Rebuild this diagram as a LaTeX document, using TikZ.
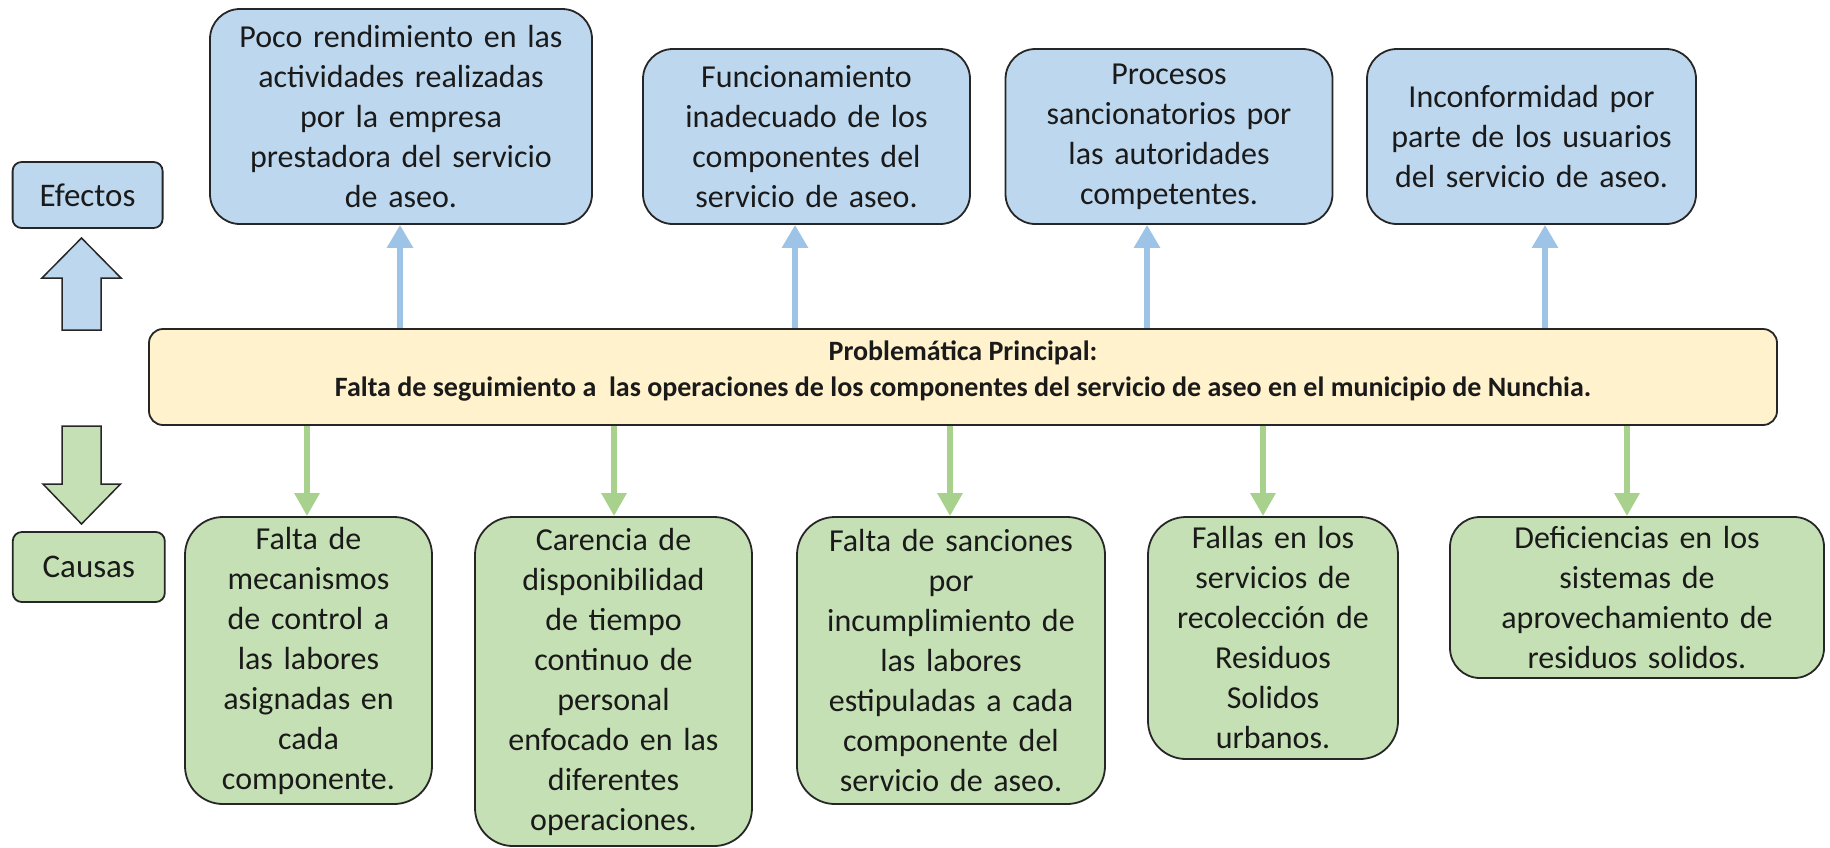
\documentclass[tikz,border=0pt]{standalone}
\usepackage{fontspec}
\setmainfont{Carlito}
\usetikzlibrary{arrows.meta}
\definecolor{effblue}{HTML}{BDD7EE}
\definecolor{causegreen}{HTML}{C5E0B4}
\definecolor{probyellow}{HTML}{FFF2CC}
\definecolor{arrblue}{HTML}{9DC3E6}
\definecolor{arrgreen}{HTML}{A9D18E}
\definecolor{edge}{HTML}{262626}
\definecolor{ink}{HTML}{1A1A1A}
\tikzset{
  basebox/.style={draw=edge, line width=1.8pt, inner sep=0pt, align=center, text=ink,
    font=\fontsize{32}{40}\selectfont},
  effbox/.style={basebox, fill=effblue, rounded corners=30pt},
  causebox/.style={basebox, fill=causegreen, rounded corners=38pt},
  labelbox/.style={draw=edge, line width=1.8pt, inner sep=0pt, rounded corners=9pt, text=ink,
    font=\fontsize{33}{40}\selectfont},
  probbox/.style={draw=edge, line width=1.8pt, inner sep=0pt, rounded corners=14pt, fill=probyellow,
    align=center, text=ink, font=\bfseries\fontsize{28}{35}\selectfont},
  barr/.style={draw=arrblue, line width=6pt, -{Triangle[length=23pt,width=25pt]}},
  garr/.style={draw=arrgreen, line width=6pt, -{Triangle[length=23pt,width=24pt]}},
  bigarrow/.style={draw=edge, line width=1.5pt, line join=miter},
}
\begin{document}
\begin{tikzpicture}[x=1pt,y=-1pt]
\useasboundingbox (0,0) rectangle (1830,847);

% side labels
\node[labelbox, fill=effblue, minimum width=150pt, minimum height=66pt] (efectos) at (87.6,195) {Efectos};
\node[labelbox, fill=causegreen, minimum width=152pt, minimum height=70pt] (causas) at (88.8,567) {Causas};

% big block arrows
\draw[bigarrow, fill=effblue] (62,330) -- (62,278) -- (42,278) -- (81.5,238) -- (121,278) -- (101,278) -- (101,330) -- cycle;
\draw[bigarrow, fill=causegreen] (62,426) -- (62,484) -- (43,484) -- (81.5,524) -- (120.5,484) -- (101,484) -- (101,426) -- cycle;

% main problem
\node[probbox, minimum width=1628pt, minimum height=96pt] (prob) at (963,377)
  {Problemática Principal:\\[1pt] Falta de seguimiento a\ \ las operaciones de los componentes del servicio de aseo en el municipio de Nunchia.\\[-18pt]\mbox{}};

% effects
\node[effbox, minimum width=382pt, minimum height=215pt, text width=372pt] (E1) at (401,116.5)
  {Poco rendimiento en las\\ actividades realizadas\\ por la empresa\\ prestadora del servicio\\ de aseo.};
\node[effbox, minimum width=327pt, minimum height=175pt, text width=317pt] (E2) at (806.5,136.5)
  {Funcionamiento\\ inadecuado de los\\ componentes del\\ servicio de aseo.};
\node[effbox, minimum width=327pt, minimum height=175pt, text width=317pt] (E3) at (1169,136.5)
  {Procesos\\ sancionatorios por\\ las autoridades\\ competentes.};
\node[effbox, minimum width=329pt, minimum height=175pt, text width=319pt] (E4) at (1531.5,136.5)
  {Inconformidad por\\ parte de los usuarios\\ del servicio de aseo.};

% causes
\node[causebox, minimum width=247pt, minimum height=287pt, text width=237pt] (C1) at (308.5,660.5)
  {Falta de\\ mecanismos\\ de control a\\ las labores\\ asignadas en\\ cada\\ componente.};
\node[causebox, minimum width=277pt, minimum height=329pt, text width=267pt] (C2) at (613.5,681.5)
  {Carencia de\\ disponibilidad\\ de tiempo\\ continuo de\\ personal\\ enfocado en las\\ diferentes\\ operaciones.};
\node[causebox, minimum width=308pt, minimum height=287pt, text width=298pt] (C3) at (951,660.5)
  {Falta de sanciones\\ por\\ incumplimiento de\\ las labores\\ estipuladas a cada\\ componente del\\ servicio de aseo.};
\node[causebox, minimum width=250pt, minimum height=242pt, text width=240pt] (C4) at (1273,638)
  {Fallas en los\\ servicios de\\ recolección de\\ Residuos\\ Solidos\\ urbanos.};
\node[causebox, minimum width=374pt, minimum height=161pt, text width=364pt, rounded corners=30pt] (C5) at (1637,597.5)
  {Deficiencias en los\\ sistemas de\\ aprovechamiento de\\ residuos solidos.};

% connector columns
\coordinate (b1) at (400,0);
\coordinate (b2) at (795,0);
\coordinate (b3) at (1147,0);
\coordinate (b4) at (1545,0);
\coordinate (g1) at (307,0);
\coordinate (g2) at (614,0);
\coordinate (g3) at (950,0);
\coordinate (g4) at (1263,0);
\coordinate (g5) at (1627,0);

\draw[barr] (prob.north -| b1) -- (E1.south -| b1);
\draw[barr] (prob.north -| b2) -- (E2.south -| b2);
\draw[barr] (prob.north -| b3) -- (E3.south -| b3);
\draw[barr] (prob.north -| b4) -- (E4.south -| b4);

\draw[garr] (prob.south -| g1) -- (C1.north -| g1);
\draw[garr] (prob.south -| g2) -- (C2.north -| g2);
\draw[garr] (prob.south -| g3) -- (C3.north -| g3);
\draw[garr] (prob.south -| g4) -- (C4.north -| g4);
\draw[garr] (prob.south -| g5) -- (C5.north -| g5);
\end{tikzpicture}
\end{document}
